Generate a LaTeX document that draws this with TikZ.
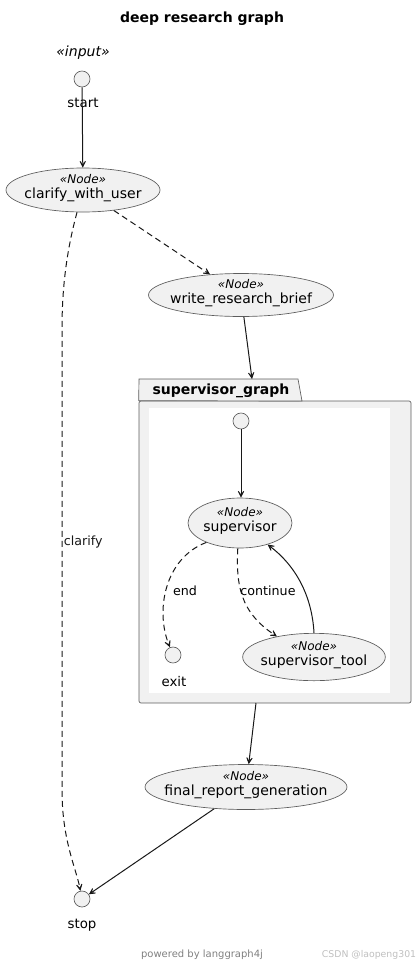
\documentclass[tikz,border=0pt]{standalone}
\usepackage{fontspec}
\setmainfont{DejaVu Sans}
\usetikzlibrary{shapes.geometric,arrows.meta}
\definecolor{umlfill}{HTML}{F1F1F1}
\definecolor{umlline}{HTML}{181818}
\newcommand{\stereo}[1]{{\fontsize{9}{9}\selectfont\itshape «#1»}}

\begin{document}
\begin{tikzpicture}[x=0.75pt, y=-0.75pt, >={Stealth[length=8pt,width=8pt,inset=5.5pt]},
  usecase/.style={ellipse, draw=umlline!70, fill=umlfill, line width=0.5pt, inner sep=0pt,
    label={[ucasetext]center:{\stereo{Node}\\[-1pt]#1}}},
  ucasetext/.style={align=center, inner sep=0pt, yshift=1.5pt, font=\fontsize{10.5}{12}\selectfont},
  dot/.style={circle, draw=umlline!70, fill=umlfill, line width=0.5pt, minimum size=12pt, inner sep=0pt},
  edge/.style={->, umlline, line width=0.75pt},
  lbl/.style={font=\fontsize{9.5}{11}\selectfont, inner sep=1pt},
  dotlbl/.style={font=\fontsize{10}{12}\selectfont}]

  \useasboundingbox (0,0) rectangle (416,967);

  % Title
  \node[font=\bfseries\fontsize{10.5}{12}\selectfont] (title) at (202,19) {deep research graph};

  % Input point
  \node[font=\itshape\fontsize{10.5}{12}\selectfont] (input) at (83,53) {«input»};
  \node[dot] (start) at (82,79) {};
  \node[dotlbl] (startlbl) at (83,103) {start};

  % Outer nodes
  \node[usecase=clarify\_with\_user, minimum width=115.5pt, minimum height=33pt] (clarify) at (83,190) {};
  \node[usecase=write\_research\_brief, minimum width=138.75pt, minimum height=32.25pt] (write) at (241,295) {};

  % Package
  \node[draw=umlline!70, fill=umlfill, line width=0.5pt, minimum width=204pt, minimum height=226.5pt, rounded corners=1.5pt] (pkg) at (275,552) {};
  \draw[draw=umlline!70, fill=umlfill, line width=0.5pt] (pkg.north west) -- (139,379) -- (298,379) -- (302,401) -- cycle;
  \node[font=\bfseries\fontsize{10.5}{12}\selectfont] (pkgname) at (221,391) {supervisor\_graph};
  \fill[white] (149,408) rectangle (390,693);
  \coordinate (pkgin) at (252,379);
  \coordinate (pkgout) at (256,703);

  % Inner nodes
  \node[dot] (sstart) at (241,421) {};
  \node[usecase=supervisor, minimum width=78pt, minimum height=37.5pt] (supervisor) at (240,523) {};
  \node[dot] (exit) at (173,655) {};
  \node[dotlbl] (exitlbl) at (174,682) {exit};
  \node[usecase=supervisor\_tool, minimum width=107pt, minimum height=35.5pt] (tool) at (314,657) {};
  \node[lbl] (lend) at (185,591) {end};
  \node[lbl] (lcont) at (268,591) {continue};

  % Final and stop
  \node[usecase=final\_report\_generation, minimum width=151.5pt, minimum height=33.75pt] (final) at (246,787) {};
  \node[dot] (stop) at (82,899) {};
  \node[dotlbl] (stoplbl) at (82,925) {stop};

  % Edges
  \draw[edge] (start) -- (clarify);
  \draw[edge, dashed, dash pattern=on 4.5pt off 3pt] (clarify) -- (write);
  \draw[edge] (write) -- (pkgin);
  \draw[edge, dashed, dash pattern=on 4.5pt off 3pt] (clarify.255) .. controls (64,260) and (62,300) .. (62,330)
    -- node[pos=0.46, right, lbl] (lclarify) {clarify} (62,790) .. controls (62,840) and (76,868) .. (stop);
  \draw[edge] (sstart) -- (sstart |- supervisor.north);
  \draw[edge, dashed, dash pattern=on 4.5pt off 3pt] (supervisor.210) .. controls (165,558) and (155,610) .. (exit);
  \draw[edge, dashed, dash pattern=on 4.5pt off 3pt] (supervisor.265) .. controls (236,585) and (240,612) .. (tool.151);
  \draw[edge] (tool.north) .. controls (312,595) and (295,565) .. (supervisor.-38);
  \draw[edge] (pkgout) -- (final);
  \draw[edge] (final) -- (stop);

  % Footer
  \node[font=\fontsize{7.5}{9}\selectfont, text=gray] (credit) at (202,955) {powered by langgraph4j};
  \node[font=\fontsize{7}{9}\selectfont, text=gray!50] (mark) at (369,955) {CSDN @laopeng301};
\end{tikzpicture}
\end{document}
